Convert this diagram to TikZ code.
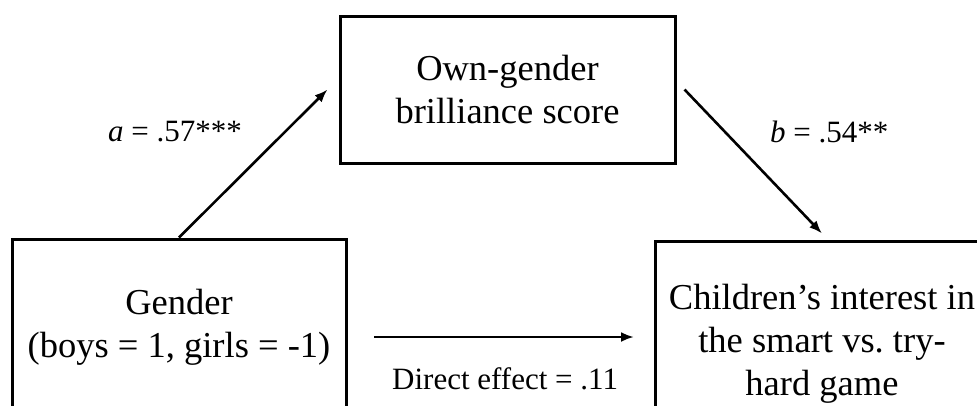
\documentclass[tikz,border=0pt]{standalone}
\usepackage{fontspec}
\setmainfont{Liberation Serif}
\usetikzlibrary{arrows.meta}
\begin{document}
\begin{tikzpicture}[x=1pt,y=-1pt,
 box/.style={draw=black, line width=3pt, inner sep=0pt, align=center, font=\fontsize{36.5}{43}\selectfont},
 arr/.style={line width=2.6pt, -{Latex[length=13pt,width=10pt]}},
 lab/.style={inner sep=0pt, anchor=base west, font=\fontsize{31}{36}\selectfont}]
\useasboundingbox (0,0) rectangle (977,405);
\begin{scope}
\clip (0,0) rectangle (977,405);
\node[box, minimum width=335pt, minimum height=147pt] (med) at (507.5,89.5) {Own-gender\\brilliance score};
\node[box, minimum width=334pt, minimum height=176pt] (iv) at (179,327) {Gender\\(boys = 1, girls = -1)};
\node[box, minimum width=334pt, minimum height=206pt] (dv) at (822,344) {Children’s interest in\\the smart vs.\ try-\\hard game};
\coordinate (d1) at (374,337);
\coordinate (d2) at (634,337);
\draw[arr] (iv.north) -- ([xshift=-11pt]med.west);
\draw[arr] ([xshift=8pt]med.east) -- ([yshift=6pt]dv.north);
\draw[arr] (d1) -- (d2);
\node[lab] (la) at (108,141) {\textit{a} = .57***};
\node[lab] (lb) at (770,142) {\textit{b} = .54**};
\node[lab] (ld) at (392,389) {Direct effect = .11};
\end{scope}
\end{tikzpicture}
\end{document}
